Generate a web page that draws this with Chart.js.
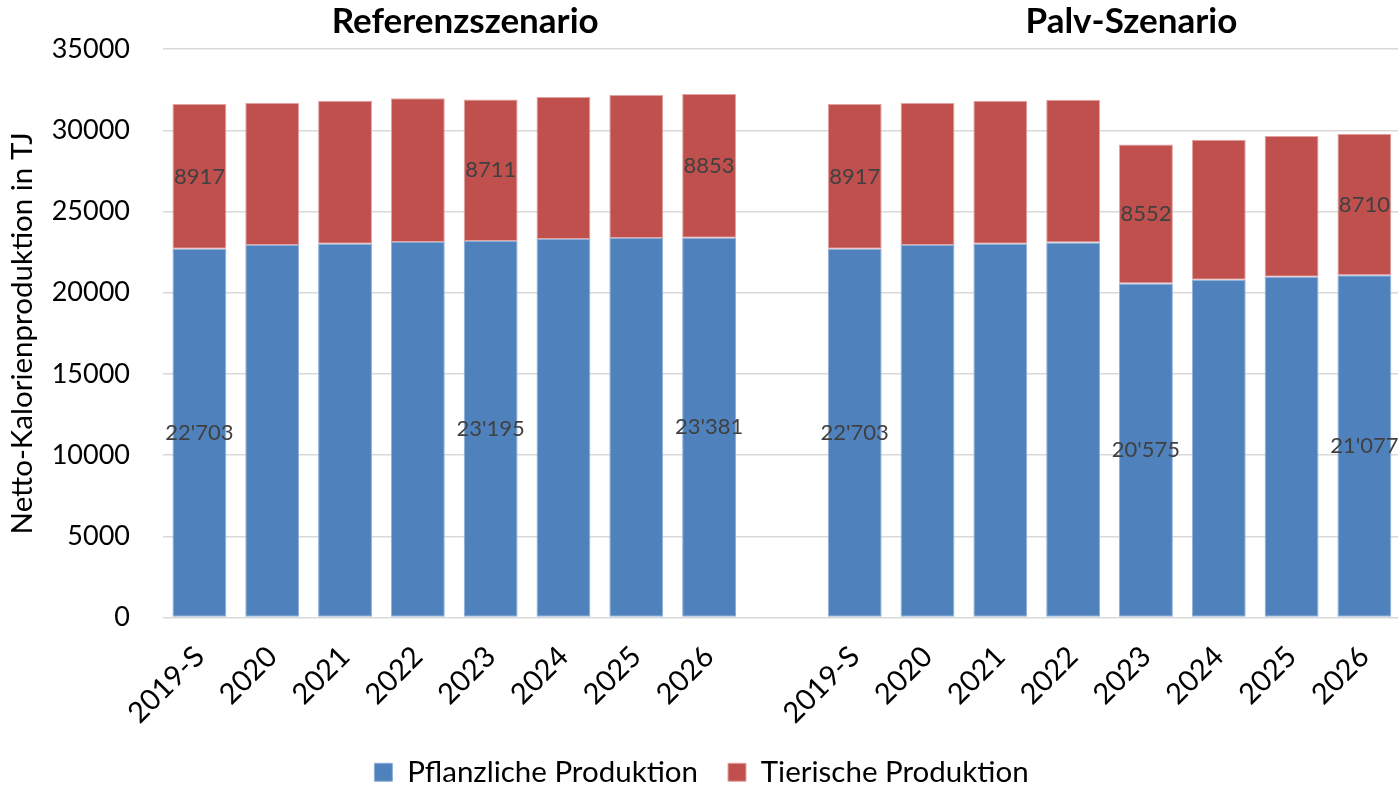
<!DOCTYPE html>
<html>
<head>
<meta charset="utf-8">
<script src="https://cdn.jsdelivr.net/npm/chart.js@4"></script>
<style>
  html, body { margin: 0; padding: 0; background: #fff; overflow: hidden; }
  #wrap { width: 1403px; height: 797px; }
</style>
</head>
<body>
<div id="wrap"><canvas id="chart"></canvas></div>
<script>
const years = ['2019-S', '2020', '2021', '2022', '2023', '2024', '2025', '2026'];
const categories = [...years, '', ...years];

// Netto-Kalorienproduktion in TJ
const refPflanzlich = [22703, 22940, 23020, 23120, 23195, 23305, 23365, 23381];
const refTierisch = [8917, 8750, 8812, 8853, 8711, 8747, 8807, 8853];
const palvPflanzlich = [22703, 22940, 23020, 23100, 20575, 20800, 20985, 21077];
const palvTierisch = [8917, 8750, 8812, 8790, 8552, 8630, 8665, 8710];

const pflanzlich = [...refPflanzlich, null, ...palvPflanzlich];
const tierisch = [...refTierisch, null, ...palvTierisch];

// bars that get a value label
const labelled = [0, 4, 7, 9, 13, 16];

const groupTitles = ['Referenzszenario', 'Palv-Szenario'];

const FONT = 'Lato';

function withApostrophe(n) {
  return String(n).replace(/\B(?=(\d{3})+(?!\d))/g, "'");
}

const valueLabels = {
  id: 'valueLabels',
  afterDatasetsDraw(chart) {
    const ctx = chart.ctx;
    ctx.save();
    ctx.font = '22px ' + FONT;
    ctx.fillStyle = '#404040';
    ctx.textAlign = 'center';
    ctx.textBaseline = 'middle';
    chart.data.datasets.forEach((ds, di) => {
      const meta = chart.getDatasetMeta(di);
      labelled.forEach(i => {
        const bar = meta.data[i];
        const txt = di === 0 ? withApostrophe(ds.data[i]) : String(ds.data[i]);
        ctx.fillText(txt, bar.x, (bar.y + bar.base) / 2);
      });
    });
    ctx.restore();
  }
};

const groupHeadings = {
  id: 'groupHeadings',
  afterDraw(chart) {
    const ctx = chart.ctx;
    const x = chart.scales.x;
    ctx.save();
    ctx.font = 'bold 35px ' + FONT;
    ctx.fillStyle = '#000';
    ctx.textAlign = 'center';
    ctx.textBaseline = 'middle';
    ctx.fillText(groupTitles[0], x.getPixelForValue(3.65), 22);
    ctx.fillText(groupTitles[1], x.getPixelForValue(12.8), 22);
    ctx.restore();
  }
};

new Chart(document.getElementById('chart'), {
  type: 'bar',
  data: {
    labels: categories,
    datasets: [
      {
        label: 'Pflanzliche Produktion',
        data: pflanzlich,
        backgroundColor: '#4F81BD',
        borderColor: '#8DB0DA',
        borderWidth: 1,
        borderSkipped: false
      },
      {
        label: 'Tierische Produktion',
        data: tierisch,
        backgroundColor: '#C0504D',
        borderColor: '#E3A3A1',
        borderWidth: 1,
        borderSkipped: false
      }
    ]
  },
  options: {
    responsive: true,
    maintainAspectRatio: false,
    animation: false,
    layout: { padding: { top: 44, left: 0, right: 0, bottom: 0 } },
    datasets: { bar: { categoryPercentage: 1, barPercentage: 0.74 } },
    plugins: {
      legend: {
        position: 'bottom',
        labels: {
          boxWidth: 18,
          boxHeight: 18,
          padding: 30,
          color: '#000',
          font: { family: FONT, size: 29.5 }
        }
      },
      tooltip: { enabled: false }
    },
    scales: {
      x: {
        stacked: true,
        grid: { display: false },
        border: { display: false },
        ticks: {
          autoSkip: false,
          minRotation: 45,
          maxRotation: 45,
          padding: 14,
          color: '#000',
          font: { family: FONT, size: 29 }
        },
        afterFit: s => { s.height = 110; }
      },
      y: {
        stacked: true,
        min: 0,
        max: 35000,
        ticks: {
          stepSize: 5000,
          padding: 33,
          color: '#000',
          font: { family: FONT, size: 27 },
          callback: v => String(v)
        },
        grid: { color: '#D9D9D9', lineWidth: 1.5, drawTicks: false },
        border: { display: false },
        title: {
          display: true,
          text: 'Netto-Kalorienproduktion in TJ',
          color: '#000',
          padding: { top: 5, bottom: 0 },
          font: { family: FONT, size: 29.5 }
        },
        afterFit: s => { s.width = 163; }
      }
    }
  },
  plugins: [valueLabels, groupHeadings]
});
</script>
</body>
</html>
